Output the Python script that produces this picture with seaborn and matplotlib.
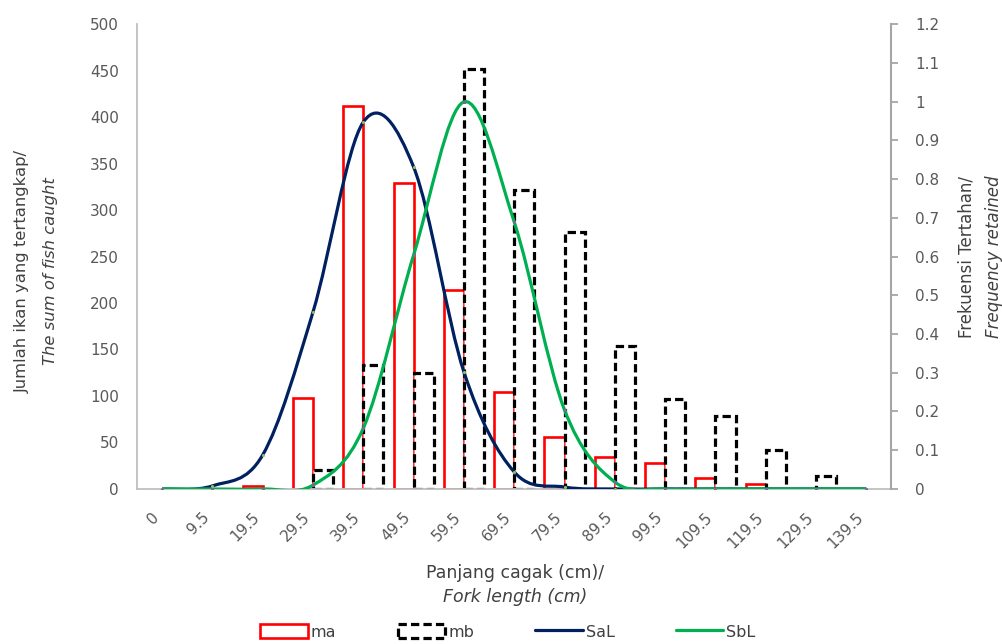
import numpy as np
import pandas as pd
import matplotlib
matplotlib.use('Agg')
import matplotlib.pyplot as plt
from matplotlib.path import Path
from matplotlib.patches import PathPatch, Patch
from matplotlib.lines import Line2D
from matplotlib.ticker import FuncFormatter, MultipleLocator
import seaborn as sns

# Data
panjang = ["0", "9.5", "19.5", "29.5", "39.5", "49.5", "59.5", "69.5",
           "79.5", "89.5", "99.5", "109.5", "119.5", "129.5", "139.5"]
ma = [0, 0, 3, 98, 412, 329, 214, 104, 56, 34, 28, 12, 5, 0, 0]
mb = [0, 0, 0, 20, 133, 125, 452, 322, 276, 154, 97, 78, 42, 14, 0]
sal = [0, 0.008, 0.088, 0.457, 0.947, 0.831, 0.302, 0.044, 0.005,
       0, 0, 0, 0, 0, 0]
sbl = [0, 0, 0, 0.01, 0.157, 0.604, 0.999, 0.689, 0.204, 0.018,
       0, 0, 0, 0, 0]

TICK_COL = '#595959'
TEXT_COL = '#404040'
RED = '#FF0000'
NAVY = '#002060'
GREEN = '#00B050'


def smooth_path(xs, ys):
    # Excel-like smoothed line: Catmull-Rom segments as cubic Bezier curves
    pts = np.column_stack([np.asarray(xs, float), np.asarray(ys, float)])
    verts = [pts[0]]
    codes = [Path.MOVETO]
    n = len(pts)
    for i in range(n - 1):
        p0 = pts[i - 1] if i > 0 else pts[i]
        p1 = pts[i]
        p2 = pts[i + 1]
        p3 = pts[i + 2] if i + 2 < n else pts[i + 1]
        verts += [p1 + (p2 - p0) / 6.0, p2 - (p3 - p1) / 6.0, p2]
        codes += [Path.CURVE4] * 3
    return Path(verts, codes)


sns.set_theme(style='white')
plt.rcParams['font.family'] = ['DejaVu Sans']

df = pd.DataFrame({
    'panjang': panjang * 2,
    'seri': ['ma'] * len(panjang) + ['mb'] * len(panjang),
    'jumlah': ma + mb,
})

fig = plt.figure(figsize=(10.02, 6.44), dpi=100)
ax = fig.add_axes([0.1367, 0.2407, 0.7530, 0.7220])

sns.barplot(data=df, x='panjang', y='jumlah', hue='seri', order=panjang,
            hue_order=['ma', 'mb'], palette=[RED, 'black'], errorbar=None,
            legend=False, width=0.8, ax=ax)

# open red boxes and dashed black boxes
for bar in ax.containers[0]:
    bar.set_facecolor('white')
    bar.set_edgecolor(RED)
    bar.set_linewidth(1.9)
    if bar.get_height() == 0:
        bar.set_visible(False)
for bar in ax.containers[1]:
    bar.set_facecolor('white')
    bar.set_edgecolor('black')
    bar.set_linewidth(2.3)
    bar.set_linestyle((0, (2.6, 1.3)))
    if bar.get_height() == 0:
        bar.set_visible(False)

ax.set_xlim(-0.5, len(panjang) - 0.5)
ax.set_ylim(0, 500)
ax.yaxis.set_major_locator(MultipleLocator(50))
ax.set_xlabel('')
ax.set_ylabel('')
ax.tick_params(axis='y', length=0, pad=13, labelsize=11, labelcolor=TICK_COL)
ax.tick_params(axis='x', length=0, pad=15, labelsize=11, labelcolor=TICK_COL)
for lab in ax.get_xticklabels():
    lab.set_rotation(45)
    lab.set_ha('right')
    lab.set_va('top')
for side in ['top', 'right']:
    ax.spines[side].set_visible(False)
for side in ['left', 'bottom']:
    ax.spines[side].set_color('#BFBFBF')
    ax.spines[side].set_linewidth(1.3)

# frequency curves on the right axis
ax2 = ax.twinx()
xpos = np.arange(len(panjang))
for vals, col, mcol in [(sal, NAVY, '#9BBB59'), (sbl, GREEN, '#8064A2')]:
    ax2.add_patch(PathPatch(smooth_path(xpos, vals), fill=False,
                            edgecolor=col, linewidth=2.3, zorder=3))
    sns.scatterplot(x=xpos, y=vals, color=mcol, s=5, linewidth=0,
                    zorder=4, ax=ax2, legend=False)
ax2.set_ylim(0, 1.2)
ax2.set_xlim(-0.5, len(panjang) - 0.5)
ax2.yaxis.set_major_locator(MultipleLocator(0.1))
ax2.yaxis.set_major_formatter(FuncFormatter(lambda v, p: f'{v:g}'))
ax2.tick_params(axis='y', length=5, width=1.3, color='#A6A6A6', pad=12,
                labelsize=11, labelcolor=TICK_COL, right=True)
for side in ['top', 'left', 'bottom']:
    ax2.spines[side].set_visible(False)
ax2.spines['right'].set_color('#A6A6A6')
ax2.spines['right'].set_linewidth(1.5)

# axis titles
fig.text(0.514, 0.110, 'Panjang cagak (cm)/', ha='center', va='center',
         fontsize=12.5, color=TEXT_COL)
fig.text(0.514, 0.073, 'Fork length (cm)', ha='center', va='center',
         fontsize=12.5, style='italic', color=TEXT_COL)
fig.text(0.022, 0.579, 'Jumlah ikan yang tertangkap/', rotation=90,
         ha='center', va='center', fontsize=11.8, color=TEXT_COL)
fig.text(0.050, 0.579, 'The sum of fish caught', rotation=90,
         ha='center', va='center', fontsize=11.8, style='italic', color=TEXT_COL)
fig.text(0.965, 0.601, 'Frekuensi Tertahan/', rotation=90,
         ha='center', va='center', fontsize=12, color=TEXT_COL)
fig.text(0.992, 0.601, 'Frequency retained', rotation=90,
         ha='center', va='center', fontsize=12, style='italic', color=TEXT_COL)

handles = [
    Patch(facecolor='white', edgecolor=RED, linewidth=1.9),
    Patch(facecolor='white', edgecolor='black', linewidth=2.3,
          linestyle=(0, (2.6, 1.3))),
    Line2D([0], [0], color=NAVY, linewidth=2.3),
    Line2D([0], [0], color=GREEN, linewidth=2.3),
]
fig.legend(handles, ['ma', 'mb', 'SaL', 'SbL'], loc='center',
           bbox_to_anchor=(0.507, 0.019), ncol=4, frameon=False,
           fontsize=11.5, handlelength=2.95, handleheight=1.0,
           handletextpad=0.2, columnspacing=3.85, labelcolor=TEXT_COL)

fig.savefig('out.png', dpi=100)
